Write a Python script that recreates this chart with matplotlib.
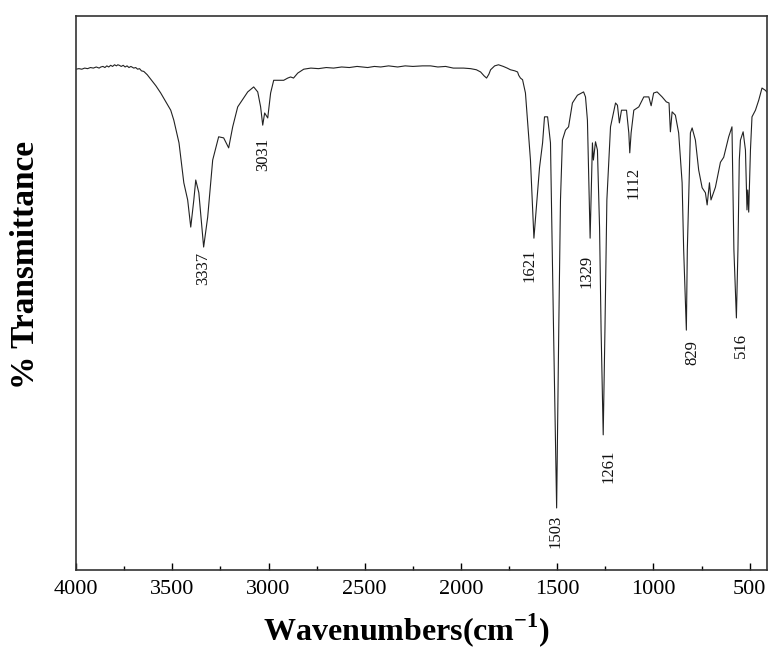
import numpy as np
import matplotlib
matplotlib.use("Agg")
import matplotlib.pyplot as plt
from matplotlib.ticker import MultipleLocator

plt.rcParams['font.family'] = ['Liberation Serif', 'DejaVu Serif']
plt.rcParams['mathtext.fontset'] = 'custom'
plt.rcParams['mathtext.rm'] = 'Liberation Serif'
plt.rcParams['mathtext.bf'] = 'Liberation Serif:bold'

# FTIR spectrum (wavenumber in cm-1, transmittance in arbitrary %)
wavenumber = [4000, 3985, 3970, 3955, 3940, 3925, 3910, 3895, 3880, 3871, 3860, 3850, 3840,
              3830, 3820, 3810, 3800, 3790, 3783, 3775, 3765, 3755, 3745, 3735, 3725, 3715,
              3700, 3690, 3680, 3670, 3660, 3648, 3630, 3612, 3585, 3560, 3535, 3508, 3492,
              3465, 3440, 3420, 3404, 3388, 3378, 3362, 3337, 3316, 3290, 3259, 3233, 3207,
              3186, 3160, 3108, 3077, 3056, 3041, 3030, 3020, 3004, 2989, 2973, 2921, 2900,
              2885, 2870, 2848, 2817, 2780, 2740, 2700, 2662, 2620, 2580, 2540, 2485, 2450,
              2417, 2376, 2329, 2290, 2250, 2200, 2158, 2120, 2080, 2040, 1987, 1950, 1920,
              1898, 1880, 1867, 1855, 1846, 1825, 1805, 1780, 1760, 1743, 1720, 1706, 1700,
              1691, 1680, 1665, 1639, 1621, 1602, 1592, 1576, 1566, 1550, 1535, 1519, 1503,
              1492, 1483, 1473, 1457, 1441, 1421, 1395, 1363, 1353, 1343, 1329, 1317, 1312,
              1301, 1291, 1280, 1272, 1261, 1252, 1242, 1223, 1197, 1187, 1177, 1166, 1140,
              1128, 1123, 1116, 1102, 1076, 1050, 1024, 1012, 999, 981, 955, 933, 919, 912,
              903, 886, 869, 851, 843, 829, 824, 817, 808, 799, 782, 765, 747, 730, 721, 709,
              701, 678, 652, 635, 609, 592, 582, 569, 561, 554, 548, 534, 522, 517, 514, 510,
              505, 496, 488, 470, 453, 436, 419, 406]
transmittance = [90.4, 90.5, 90.4, 90.6, 90.5, 90.7, 90.6, 90.8, 90.6, 90.8, 90.9, 90.7, 91.0,
                 90.8, 91.1, 90.9, 91.2, 91.0, 91.2, 91.1, 90.9, 91.1, 90.8, 91.0, 90.7, 90.9,
                 90.6, 90.7, 90.4, 90.5, 90.1, 90.0, 89.4, 88.6, 87.4, 86.1, 84.6, 83.0, 81.2,
                 77.1, 69.9, 66.8, 61.9, 66.8, 70.4, 68.1, 58.3, 63.7, 74.0, 78.2, 78.0, 76.2,
                 80.0, 83.6, 86.3, 87.2, 86.3, 83.6, 80.3, 82.5, 81.6, 86.1, 88.4, 88.4, 88.8,
                 89.0, 88.8, 89.7, 90.4, 90.6, 90.5, 90.7, 90.6, 90.8, 90.7, 90.9, 90.7, 90.9,
                 90.8, 91.0, 90.8, 91.0, 90.9, 91.0, 91.0, 90.8, 90.9, 90.6, 90.6, 90.5, 90.3,
                 89.9, 89.2, 88.8, 89.5, 90.3, 91.0, 91.2, 90.9, 90.6, 90.3, 90.1, 89.9, 89.3,
                 88.8, 88.5, 86.1, 74.0, 59.9, 68.1, 72.6, 77.1, 81.8, 81.8, 77.1, 43.3, 11.2,
                 43.3, 66.8, 77.6, 79.4, 80.0, 84.3, 85.7, 86.3, 85.4, 81.2, 59.9, 77.1, 74.0,
                 77.3, 75.8, 61.9, 43.3, 24.4, 43.3, 66.8, 80.0, 84.3, 83.9, 80.7, 83.0, 83.0,
                 78.9, 75.3, 78.9, 83.0, 83.6, 85.4, 85.4, 83.8, 86.1, 86.3, 85.4, 84.5, 84.3,
                 79.1, 82.7, 82.1, 78.9, 69.9, 57.8, 43.3, 57.8, 66.8, 78.9, 79.8, 77.6, 72.2,
                 69.0, 68.1, 65.9, 69.9, 66.8, 69.1, 73.6, 74.5, 78.2, 80.0, 57.8, 45.5, 57.8,
                 74.0, 77.6, 79.1, 75.8, 68.6, 65.0, 68.6, 64.6, 75.8, 81.8, 83.0, 84.8, 87.0,
                 86.6, 86.1]

peak_labels = ['3337', '3031', '1621', '1329', '1112', '829', '516', '1503', '1261']
label_x = [3337, 3030, 1642, 1348, 1102, 799, 545, 1509, 1232]
label_y = [57.4, 78.0, 58.1, 56.9, 72.7, 41.5, 42.8, 9.9, 21.7]

fig = plt.figure(figsize=(7.68, 6.51), dpi=100)
ax = fig.add_axes([0.099, 0.1244, 0.8997, 0.851])

ax.plot(wavenumber, transmittance, color='#222222', lw=0.8)

for lab, x, y in zip(peak_labels, label_x, label_y):
    ax.text(x, y, lab, rotation=90, ha='center', va='top', fontsize=12, color='#111111')

ax.set_xlim(4000, 410)
ax.set_ylim(0, 100)
ax.xaxis.set_major_locator(MultipleLocator(500))
ax.xaxis.set_minor_locator(MultipleLocator(250))
ax.tick_params(axis='x', which='major', direction='in', length=5, width=1, labelsize=16, pad=7)
ax.tick_params(axis='x', which='minor', direction='in', length=3, width=1)
ax.set_yticks([])
for s in ax.spines.values():
    s.set_linewidth(1.2)
    s.set_color('#333333')

ax.set_xlabel(r'Wavenumbers(cm$^{\mathbf{-1}}$)', fontsize=23, fontweight='bold')
ax.xaxis.set_label_coords(0.478, -0.074)
ax.set_ylabel('% Transmittance', fontsize=24, fontweight='bold')
ax.yaxis.set_label_coords(-0.05, 0.55)

plt.savefig('out.png', dpi=100)
